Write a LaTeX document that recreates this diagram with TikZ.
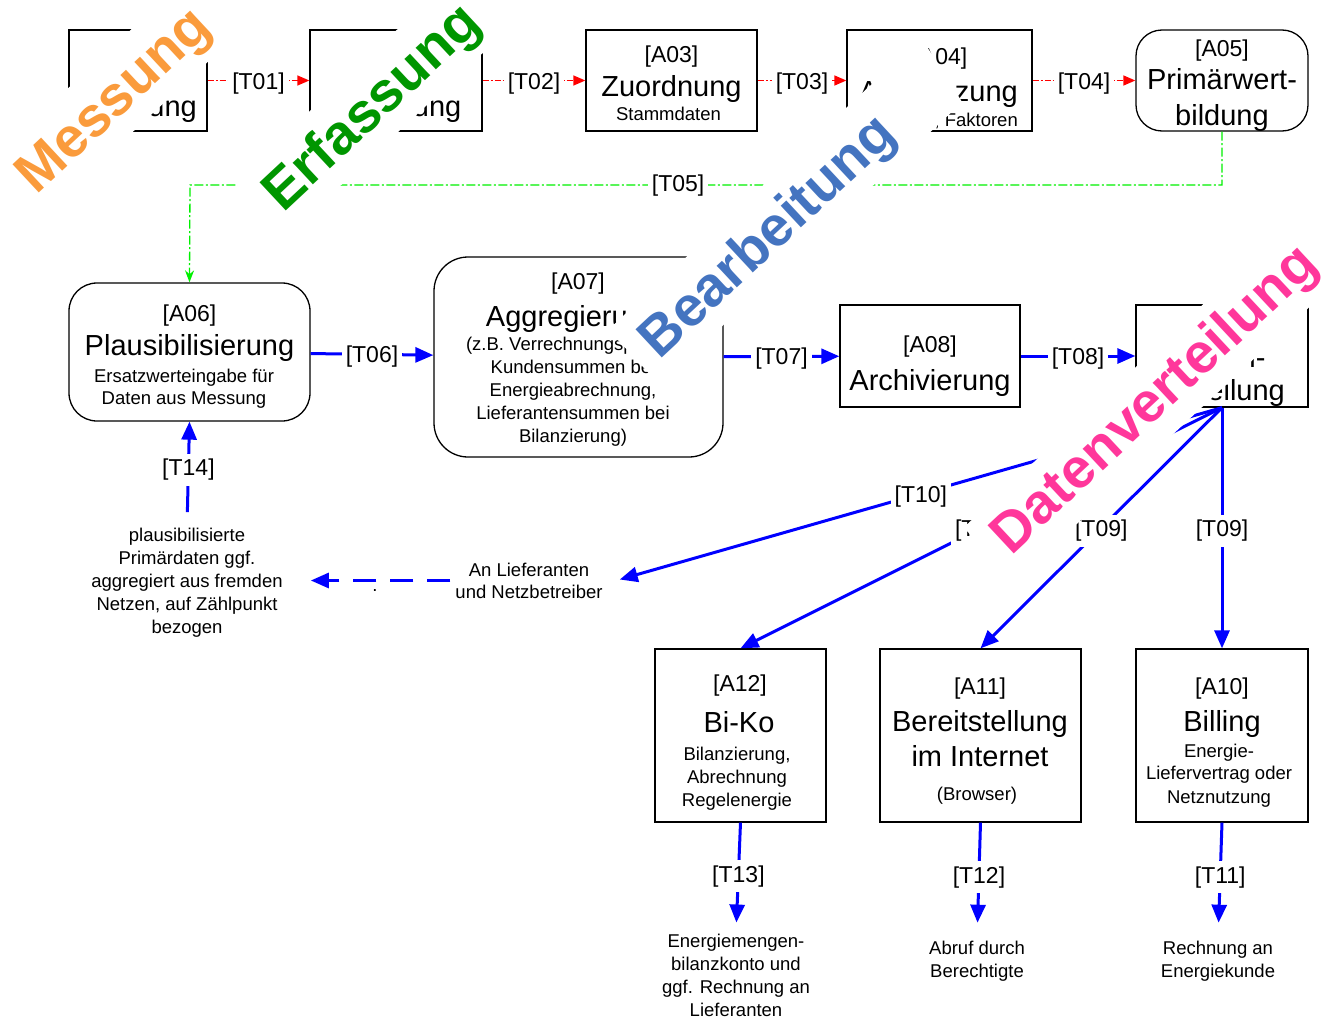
\documentclass[tikz,border=0pt]{standalone}
\usepackage{fontspec}
\setmainfont{Liberation Sans}
\usetikzlibrary{arrows.meta}

\definecolor{flowblue}{RGB}{0,0,255}
\definecolor{flowred}{RGB}{255,0,0}
\definecolor{flowgreen}{RGB}{0,240,0}
\definecolor{wmorange}{RGB}{250,155,60}
\definecolor{wmgreen}{RGB}{0,150,0}
\definecolor{wmblue}{RGB}{68,116,192}
\definecolor{wmpink}{RGB}{255,55,155}

\newcommand\fid{\fontsize{23}{27}\selectfont}
\newcommand\ftitle{\fontsize{29}{35}\selectfont}
\newcommand\fsmall{\fontsize{18.5}{23}\selectfont}
\newcommand\fmark{\bfseries\fontsize{56}{60}\selectfont}

\begin{document}
\begin{tikzpicture}[x=1pt,y=-1pt,
  box/.style={draw=black, line width=1.3pt, fill=white, inner sep=0pt, minimum height=101pt},
  idtxt/.style={font=\fid, inner sep=0pt, text height=17pt, text depth=5pt, yshift=-2.5pt},
  ttltxt/.style={font=\ftitle, inner sep=0pt, text height=21pt, text depth=6pt, yshift=-2.5pt},
  smtxt/.style={font=\fsmall, inner sep=0pt, text height=13.5pt, text depth=4pt, yshift=-2.5pt},
  note/.style={font=\fsmall, align=center, inner sep=0pt},
  lbl/.style={font=\fid, fill=white, inner xsep=4pt, inner ysep=5pt, text height=17pt, text depth=5pt, yshift=-2.5pt},
  redflow/.style={draw=flowred, line width=1.3pt, dash pattern=on 6pt off 2pt on 2pt off 2pt,
    -{Triangle[length=12pt,width=10pt,fill=flowred]}},
  greenflow/.style={draw=flowgreen, line width=1.3pt, dash pattern=on 9pt off 2.5pt on 2pt off 2.5pt,
    -{Stealth[length=12pt,width=9pt,fill=flowgreen]}},
  blueflow/.style={draw=flowblue, line width=3pt, -{Triangle[length=18pt,width=15pt,fill=flowblue]}},
  wmtext/.style={font=\fmark, inner sep=0pt, rotate=43}
]
\fill[white] (0,0) rectangle (1326,1025);
\useasboundingbox (0,0) rectangle (1326,1025);

% ---------- process steps ----------
\node[box, minimum width=138pt] (a01) at (138,80.5) {};
\node[box, minimum width=172pt] (a02) at (396,80.5) {};
\node[box, minimum width=171pt] (a03) at (671.5,80.5) {};
\node[box, minimum width=185pt] (a04) at (939.5,80.5) {};
\node[box, minimum width=172pt, rounded corners=26pt] (a05) at (1222,80.5) {};
\node[box, minimum width=241pt, minimum height=138pt, rounded corners=28pt] (a06) at (189.5,352) {};
\node[box, minimum width=289pt, minimum height=200pt, rounded corners=34pt] (a07) at (578.5,357) {};
\node[box, minimum width=180pt, minimum height=102pt] (a08) at (930,356) {};
\node[box, minimum width=172pt, minimum height=102pt] (a09) at (1222,356) {};
\node[box, minimum width=171pt, minimum height=173pt] (a12) at (740.5,735.5) {};
\node[box, minimum width=201pt, minimum height=173pt] (a11) at (980.5,735.5) {};
\node[box, minimum width=172pt, minimum height=173pt] (a10) at (1222,735.5) {};

% ---------- step texts ----------
\node[ttltxt] (a01-t) at (138,106) {Messung};
\node[ttltxt] (a02-t) at (396,106) {Erfassung};

\node[idtxt] (a03-i) at (671.5,54) {[A03]};
\node[ttltxt] (a03-t) at (671.5,86) {Zuordnung};
\node[smtxt] (a03-s) at (668.5,113) {Stammdaten};

\node[idtxt] (a04-i) at (940.5,56) {[A04]};
\node[ttltxt, anchor=west] (a04-ta) at (859,92) {A};
\node[ttltxt, anchor=east] (a04-tb) at (1018,92) {zung};
\node[smtxt, anchor=east] (a04-s) at (1018,119) {, Faktoren};

\node[idtxt] (a05-i) at (1222,48) {[A05]};
\node[ttltxt] (a05-t1) at (1222,80) {Primärwert-};
\node[ttltxt] (a05-t2) at (1222,115) {bildung};

\node[idtxt] (a06-i) at (189.5,313) {[A06]};
\node[ttltxt] (a06-t) at (189.5,345) {Plausibilisierung};
\node[smtxt] (a06-s1) at (184,375) {Ersatzwerteingabe für};
\node[smtxt] (a06-s2) at (184,397) {Daten aus Messung};

\node[idtxt] (a07-i) at (578,281) {[A07]};
\node[ttltxt] (a07-t) at (573,316) {Aggregierung};
\node[smtxt] (a07-s1) at (573,343) {(z.B. Verrechnungspunkt-,};
\node[smtxt] (a07-s2) at (573,366) {Kundensummen bei};
\node[smtxt] (a07-s3) at (573,389) {Energieabrechnung,};
\node[smtxt] (a07-s4) at (573,412) {Lieferantensummen bei};
\node[smtxt] (a07-s5) at (573,435) {Bilanzierung)};

\node[idtxt] (a08-i) at (930,344) {[A08]};
\node[ttltxt] (a08-t) at (930,380) {Archivierung};

\node[ttltxt] (a09-t1) at (1222,357) {Daten-};
\node[ttltxt] (a09-t2) at (1222,390) {verteilung};

\node[idtxt] (a12-i) at (740,683) {[A12]};
\node[ttltxt] (a12-t) at (739,722) {Bi-Ko};
\node[smtxt] (a12-s1) at (737,753) {Bilanzierung,};
\node[smtxt] (a12-s2) at (737,776) {Abrechnung};
\node[smtxt] (a12-s3) at (737,799) {Regelenergie};

\node[idtxt] (a11-i) at (980,686) {[A11]};
\node[ttltxt] (a11-t1) at (980,721) {Bereitstellung};
\node[ttltxt] (a11-t2) at (980,756) {im Internet};
\node[smtxt] (a11-s) at (977,793) {(Browser)};

\node[idtxt] (a10-i) at (1222,686) {[A10]};
\node[ttltxt] (a10-t) at (1222,721) {Billing};
\node[smtxt] (a10-s1) at (1219,750) {Energie-};
\node[smtxt] (a10-s2) at (1219,772) {Liefervertrag oder};
\node[smtxt] (a10-s3) at (1219,796) {Netznutzung};

% ---------- sources and recipients ----------
\node[note] (src) at (187,583) {plausibilisierte\\Primärdaten ggf.\\aggregiert aus fremden\\Netzen, auf Zählpunkt\\bezogen};
\node[note, font=\fontsize{18.5}{22}\selectfont] (ext) at (529,580.5) {An Lieferanten\\und Netzbetreiber};
\node[note] (out13) at (736,975) {Energiemengen-\\bilanzkonto und\\ggf. Rechnung an\\Lieferanten};
\node[note] (out12) at (977,961) {Abruf durch\\Berechtigte};
\node[note] (out11) at (1218,961) {Rechnung an\\Energiekunde};

% ---------- transfers ----------
\draw[redflow] (a01) -- node[lbl]{[T01]} (a02);
\draw[redflow] (a02) -- node[lbl]{[T02]} (a03);
\draw[redflow] (a03) -- node[lbl]{[T03]} (a04);
\draw[redflow] (a04) -- node[lbl]{[T04]} (a05);

\coordinate (t05a) at (1222,185);
\coordinate (t05b) at (190,185);
\draw[greenflow] (a05.south) -- (t05a) -- node[lbl, pos=0.527, yshift=2pt]{[T05]} (t05b) -- (a06.north);

\draw[blueflow] (a06) -- node[lbl]{[T06]} (a07);
\draw[blueflow] (a07) -- node[lbl]{[T07]} (a08);
\draw[blueflow] (a08) -- node[lbl]{[T08]} (a09);

\draw[blueflow] (a09.south) -- node[lbl]{[T09]} (a10.north);
\draw[blueflow] (a09.south) -- node[lbl]{[T09]} (a11.north);
\draw[blueflow] (a09.south) -- node[lbl]{[T09]} (a12.north);
\draw[blueflow] (a09.south) -- node[lbl]{[T10]} ([xshift=17pt,yshift=1pt]ext.east);

\draw[blueflow, shorten >=11pt] (a12.south) -- node[lbl, pos=0.46]{[T13]} (out13.north);
\draw[blueflow, shorten >=18pt] (a11.south) -- node[lbl, pos=0.44]{[T12]} (out12.north);
\draw[blueflow, shorten >=18pt] (a10.south) -- node[lbl, pos=0.44]{[T11]} (out11.north);
\draw[blueflow, shorten <=16pt] (src.north) -- node[lbl, pos=0.573]{[T14]} (a06.south);

\draw[blueflow, dash pattern=on 23pt off 14pt, shorten <=5pt, shorten >=28pt] (ext.west) -- (src.east |- ext.west);
\node[smtxt] (gapdot) at (375,584) {.};

% ---------- phase captions, in (along text, across text) coordinates ----------
\begin{scope}[x={(0.7314pt,0.682pt)}, y={(0.682pt,-0.7314pt)}]
  \fill[white] (-121,111) -- (150,111) -- (150,187) -- (-121,187) -- cycle;
  \node[wmtext, text=wmorange] (m-word) at (14.6,154.4) {Messung};
  \fill[white] (47,292.5) -- (351,292.5) -- (351,368) -- (47,368) -- cycle;
  \node[wmtext, text=wmgreen] (e-word) at (199,334.8) {Erfassung};
  \fill[white] (220,656) -- (648,656) -- (634,731) -- (220,731) -- cycle;
  \node[wmtext, text=wmblue] (b-word) at (400,699) {Bearbeitung};
  \fill[white] (345,1043) -- (805,1043) -- (805,1117.5) -- (345,1117.5) -- cycle;
  \node[wmtext, text=wmpink] (d-word) at (572,1082) {Datenverteilung};
\end{scope}
\end{tikzpicture}
\end{document}
